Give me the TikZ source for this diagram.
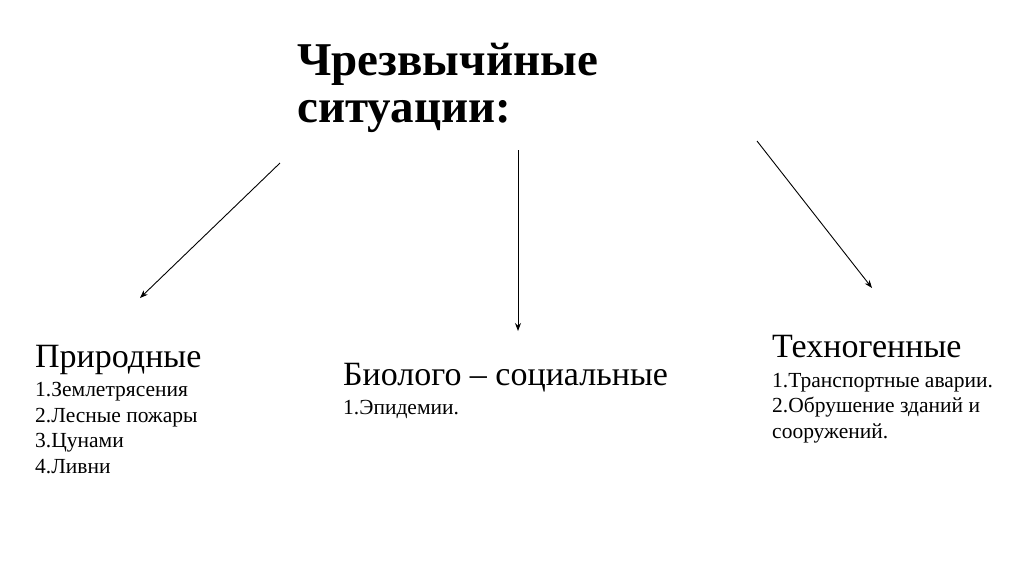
\documentclass[tikz,border=0pt]{standalone}
\usepackage{fontspec}
\setmainfont{Liberation Serif}
\usetikzlibrary{arrows.meta}
\begin{document}
\begin{tikzpicture}[x=1pt,y=-1pt,
  conn/.style={line width=0.9pt,-{Stealth[length=8pt,width=6pt]}},
  head/.style={anchor=base west,inner sep=0pt,font=\fontsize{34}{40}\selectfont},
  items/.style={anchor=base west,inner sep=0pt,align=left,font=\fontsize{21.5}{25.5}\selectfont},
  titlestyle/.style={anchor=base west,inner sep=0pt,align=left,font=\fontsize{47}{47}\bfseries\selectfont}]
\useasboundingbox (0,0) rectangle (1024,574);
\node[titlestyle] (title) at (297,122) {Чрезвычйные\\ситуации:};
\coordinate (a1s) at (280,163);
\coordinate (a1e) at (140,298);
\coordinate (a2s) at (518,150);
\coordinate (a2e) at (518,331);
\coordinate (a3s) at (757,141);
\coordinate (a3e) at (872,288);
\draw[conn] (a1s) -- (a1e);
\draw[conn] (a2s) -- (a2e);
\draw[conn] (a3s) -- (a3e);
\node[head] (nat) at (35,367) {Природные};
\node[items] (natl) at (35,473) {1.Землетрясения\\2.Лесные пожары\\3.Цунами\\4.Ливни};
\node[head] (bio) at (343,385) {Биолого – социальные};
\node[items] (biol) at (343,414) {1.Эпидемии.};
\node[head] (tech) at (772,357) {Техногенные};
\node[items] (techl) at (772,438) {1.Транспортные аварии.\\2.Обрушение зданий и\\сооружений.};
\end{tikzpicture}
\end{document}
